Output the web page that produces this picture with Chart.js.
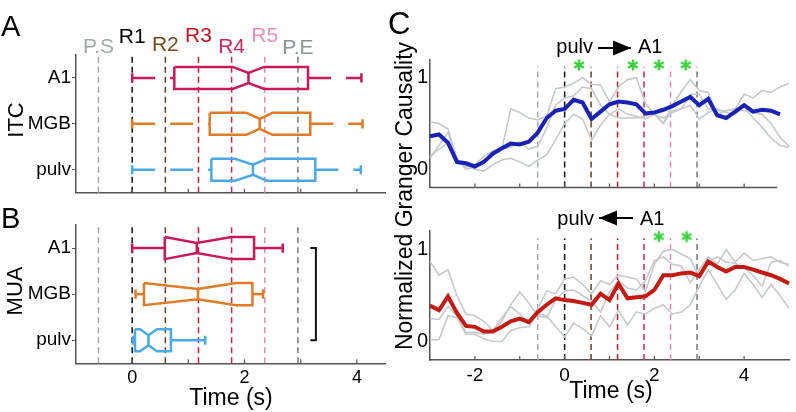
<!DOCTYPE html>
<html>
<head>
<meta charset="utf-8">
<script src="https://cdn.jsdelivr.net/npm/chart.js@4.4.1/dist/chart.umd.min.js"></script>
<style>
  html, body { margin: 0; padding: 0; background: #fff; }
  #wrap { position: relative; width: 796px; height: 412px; overflow: hidden; }
  #wrap canvas { position: absolute; left: 0; top: 0; }
</style>
</head>
<body>
<div id="wrap">
  <canvas id="chartA" width="796" height="412"></canvas>
  <canvas id="chartB" width="796" height="412"></canvas>
  <canvas id="chartC1" width="796" height="412"></canvas>
  <canvas id="chartC2" width="796" height="412"></canvas>
</div>
<script>
// ---- data ----
const regions = ['A1', 'MGB', 'pulv'];
const eventNames = ['P.S', 'R1', 'R2', 'R3', 'R4', 'R5', 'P.E'];
const eventTimes = [-0.6, 0, 0.59, 1.18, 1.77, 2.36, 2.95];

// ITC onset times (s), order: A1, MGB, pulv
const itcMin = [0, 0, 0];
const itcQ1 = [0.75, 1.38, 1.41];
const itcMed = [2.07, 2.27, 2.15];
const itcQ3 = [3.13, 3.17, 3.26];
const itcMax = [4.08, 4.10, 4.07];
const itcNotchLo = [1.79, 2.03, 1.83];
const itcNotchHi = [2.35, 2.50, 2.40];

// MUA onset times (s)
const muaMin = [0, 0.06, 0.02];
const muaQ1 = [0.58, 0.21, 0.05];
const muaMed = [1.15, 1.17, 0.29];
const muaQ3 = [2.17, 2.14, 0.69];
const muaMax = [2.68, 2.33, 1.30];
const muaNotchLo = [0.58, 0.21, 0.14];
const muaNotchHi = [1.77, 1.85, 0.44];

// normalized Granger causality
const timeC = [-3.0, -2.8, -2.6, -2.4, -2.2, -2.0, -1.8, -1.6, -1.4, -1.2, -1.0, -0.8, -0.6, -0.4, -0.2,
  0.0, 0.2, 0.4, 0.6, 0.8, 1.0, 1.2, 1.4, 1.6, 1.8, 2.0, 2.2, 2.4, 2.6, 2.8, 3.0, 3.2, 3.4, 3.6, 3.8,
  4.0, 4.2, 4.4, 4.6, 4.8, 5.0];

// pulv -> A1
const fwdMean = [0.36, 0.38, 0.29, 0.08, 0.065, 0.03, 0.08, 0.17, 0.23, 0.28, 0.27, 0.30, 0.40, 0.56, 0.64,
  0.66, 0.76, 0.73, 0.55, 0.63, 0.71, 0.74, 0.73, 0.71, 0.61, 0.62, 0.65, 0.69, 0.74, 0.79, 0.70, 0.77, 0.59, 0.56, 0.63,
  0.70, 0.63, 0.65, 0.64, 0.60, null];
const fwdGray1 = [0.52, 0.50, 0.44, 0.12, 0.02, 0.05, 0.14, 0.20, 0.22, 0.66, 0.62, 0.56, 0.54, 0.58, 0.88,
  0.90, 0.94, 1.00, 0.93, 0.92, 0.74, 0.90, 0.98, 1.00, 0.72, 0.60, 0.50, 0.70, 0.85, 0.98, 0.86, 0.84, 0.60, 0.64, 0.66,
  0.64, 0.62, 0.60, 0.50, 0.35, 0.25];
const fwdGray2 = [0.12, 0.26, 0.40, 0.10, 0.00, 0.02, 0.10, 0.17, 0.22, 0.24, 0.30, 0.22, 0.25, 0.45, 0.70,
  0.78, 0.80, 0.90, 0.88, 0.70, 0.60, 0.56, 0.56, 0.56, 0.58, 0.62, 0.50, 0.64, 0.66, 0.82, 0.82, 0.66, 0.64, 0.64, 0.66,
  0.82, 0.78, 0.86, 0.84, 0.90, 0.94];
const fwdGray3 = [0.14, 0.22, 0.28, 0.06, 0.04, 0.00, -0.02, 0.05, 0.10, 0.12, 0.08, 0.03, 0.10, 0.16, 0.32,
  0.50, 0.60, 0.55, 0.32, 0.48, 0.60, 0.66, 0.60, 0.58, 0.55, 0.60, 0.56, 0.62, 0.66, 0.70, 0.55, 0.62, 0.66, 0.62, 0.60,
  0.68, 0.56, 0.46, 0.34, 0.26, 0.24];

// A1 -> pulv
const bwdMean = [0.39, 0.34, 0.49, 0.31, 0.17, 0.16, 0.11, 0.11, 0.16, 0.22, 0.25, 0.21, 0.32, 0.40, 0.47,
  0.45, 0.44, 0.42, 0.40, 0.52, 0.45, 0.63, 0.47, 0.48, 0.49, 0.56, 0.72, 0.72, 0.74, 0.75, 0.71, 0.87, 0.81, 0.76, 0.81,
  0.81, 0.78, 0.75, 0.72, 0.68, 0.63];
const bwdGray1 = [0.87, 0.72, 0.78, 0.50, 0.30, 0.28, 0.22, 0.12, 0.26, 0.38, 0.30, 0.20, 0.36, 0.55, 0.52,
  0.68, 0.70, 0.62, 0.52, 0.66, 0.62, 0.72, 0.70, 0.68, 0.54, 0.84, 0.98, 1.00, 0.95, 0.90, 0.70, 0.86, 0.92, 0.86, 0.85,
  0.80, 0.72, 0.60, 0.86, 0.88, 0.82];
const bwdGray2 = [0.25, 0.24, 0.38, 0.28, 0.10, 0.10, 0.08, 0.12, 0.22, 0.40, 0.54, 0.42, 0.28, 0.26, 0.45,
  0.55, 0.56, 0.50, 0.44, 0.32, 0.54, 0.66, 0.58, 0.56, 0.66, 0.88, 0.92, 0.84, 0.82, 0.64, 0.78, 0.92, 0.84, 1.00, 0.86,
  0.96, 0.88, 0.90, 0.92, 0.86, 0.84];
const bwdGray3 = [0.02, 0.02, 0.28, 0.26, 0.08, 0.08, 0.03, 0.00, 0.00, 0.12, 0.15, 0.16, 0.30, 0.28, 0.16,
  0.05, 0.20, 0.14, 0.06, 0.28, 0.16, 0.34, 0.18, 0.32, 0.30, 0.36, 0.40, 0.30, 0.32, 0.40, 0.60, 0.78, 0.62, 0.46, 0.56,
  0.74, 0.62, 0.48, 0.62, 0.50, 0.36];

const fwdStars = [0.32, 1.52, 2.10, 2.70];
const bwdStars = [2.10, 2.72];
const starLevel = 1.14;

// ---- styles ----
const FONT = "'Liberation Sans', Arial, sans-serif";
const regionColors = ['#c9195a', '#e07b27', '#4aa9e6'];
const eventLineColors = ['#a3abab', '#111111', '#6e4020', '#c81e2a', '#c42a58', '#e48cb8', '#737b7b'];
const eventTextColors = ['#a0a8a8', '#000000', '#7a4a1e', '#c8141e', '#c8285a', '#e890bb', '#8a9494'];
const eventTextBase = [53, 43, 51, 42, 53, 42, 54];
const AXIS = '#555';

function seg(pts, color, width, dash, order) {
  return {
    type: 'scatter', data: pts, showLine: true, borderColor: color, borderWidth: width,
    borderDash: dash || [], pointRadius: 0, fill: false, tension: 0, clip: false,
    borderJoinStyle: 'miter', order: order || 0
  };
}

function boxSets(i, mn, q1, md, q3, mx, nlo, nhi, whiskerDash) {
  const y = 3 - i, h = 0.24, hn = 0.11, hc = 0.1, c = regionColors[i];
  return [
    seg([{x: q1, y: y + h}, {x: nlo, y: y + h}, {x: md, y: y + hn}, {x: nhi, y: y + h}, {x: q3, y: y + h},
         {x: q3, y: y - h}, {x: nhi, y: y - h}, {x: md, y: y - hn}, {x: nlo, y: y - h}, {x: q1, y: y - h},
         {x: q1, y: y + h}], c, 2.5),
    seg([{x: md, y: y + hn}, {x: md, y: y - hn}], c, 2.5),
    seg([{x: mn, y: y}, {x: q1, y: y}], c, 2.5, whiskerDash),
    seg([{x: q3, y: y}, {x: mx, y: y}], c, 2.5, whiskerDash),
    seg([{x: mn, y: y + hc}, {x: mn, y: y - hc}], c, 2.5),
    seg([{x: mx, y: y + hc}, {x: mx, y: y - hc}], c, 2.5)
  ];
}

function eventSets(y0, y1) {
  return eventTimes.map((t, k) => seg([{x: t, y: y0}, {x: t, y: y1}], eventLineColors[k], 1.5, [6, 4], 5));
}

function series(vals, color, width, order) {
  return seg(timeC.map((t, k) => ({x: t, y: vals[k]})), color, width, [], order);
}

function starImage() {
  const c = document.createElement('canvas');
  c.width = 14; c.height = 14;
  const g = c.getContext('2d');
  g.strokeStyle = '#3bd23b'; g.lineWidth = 2.4;
  for (let k = 0; k < 3; k++) {
    const a = Math.PI / 2 + k * Math.PI / 3;
    g.beginPath();
    g.moveTo(7 + 5.5 * Math.cos(a), 7 + 5.5 * Math.sin(a));
    g.lineTo(7 - 5.5 * Math.cos(a), 7 - 5.5 * Math.sin(a));
    g.stroke();
  }
  return c;
}
const STAR = starImage();

function starSet(times) {
  return {
    type: 'scatter', data: times.map(t => ({x: t, y: starLevel})),
    pointStyle: STAR, pointRadius: 6, clip: false, order: 0
  };
}

// draws inward ticks, extra text and arrows
const decor = {
  id: 'decor',
  afterDraw(chart, args, opts) {
    const ctx = chart.ctx, xs = chart.scales.x, a = chart.chartArea;
    ctx.save();
    ctx.strokeStyle = AXIS; ctx.lineWidth = 1.2;
    (opts.xTicks || []).forEach(v => {
      const px = xs.getPixelForValue(v);
      ctx.beginPath(); ctx.moveTo(px, a.bottom); ctx.lineTo(px, a.bottom - 4); ctx.stroke();
    });
    if (opts.xAxisEnd !== undefined) {
      ctx.lineWidth = 1.5;
      ctx.beginPath(); ctx.moveTo(a.left, a.bottom); ctx.lineTo(xs.getPixelForValue(opts.xAxisEnd), a.bottom); ctx.stroke();
    }
    (opts.texts || []).forEach(t => {
      ctx.save();
      ctx.font = t.font; ctx.fillStyle = t.color || '#000';
      ctx.textAlign = t.align || 'left'; ctx.textBaseline = 'alphabetic';
      const x = t.xv !== undefined ? xs.getPixelForValue(t.xv) : t.x;
      ctx.translate(x, t.y);
      if (t.rot) ctx.rotate(t.rot);
      ctx.fillText(t.text, 0, 0);
      ctx.restore();
    });
    if (opts.arrow) {
      const w = opts.arrow;
      ctx.fillStyle = '#000'; ctx.strokeStyle = '#000'; ctx.lineWidth = 2;
      ctx.beginPath(); ctx.moveTo(w.x1, w.y); ctx.lineTo(w.x2, w.y); ctx.stroke();
      const tip = w.dir > 0 ? w.x2 : w.x1, base = tip - w.dir * 18;
      ctx.beginPath(); ctx.moveTo(tip, w.y); ctx.lineTo(base, w.y - 7.5); ctx.lineTo(base, w.y + 7.5); ctx.closePath(); ctx.fill();
    }
    ctx.restore();
  }
};

// chart area fixed at (l,t)-(r,b); y axis box yW wide, x axis box xH tall
function fixedArea(l, t, r, b, yW, xH) {
  return {pad: {left: l - yW, top: t, right: 796 - r, bottom: 412 - b - xH}, yW: yW, xH: xH};
}

function boxChart(id, area, sets, xLabels, extraTexts) {
  return new Chart(document.getElementById(id), {
    type: 'scatter',
    data: {datasets: sets},
    plugins: [decor],
    options: {
      responsive: false, animation: false, devicePixelRatio: 1,
      layout: {padding: area.pad},
      plugins: {
        legend: {display: false}, tooltip: {enabled: false},
        decor: {xTicks: [0, 1, 2, 3, 4], texts: extraTexts}
      },
      scales: {
        x: {
          type: 'linear', min: -1, max: 4.5,
          afterFit: s => { s.height = area.xH; },
          afterBuildTicks: s => { s.ticks = [0, 2, 4].map(v => ({value: v})); },
          grid: {display: false, drawTicks: false},
          border: {display: true, color: AXIS, width: 1.5},
          ticks: {display: xLabels, padding: 4, color: '#000', font: {family: FONT, size: 18}, maxRotation: 0}
        },
        y: {
          type: 'linear', min: 0.5, max: 3.5,
          afterFit: s => { s.width = area.yW; },
          afterBuildTicks: s => { s.ticks = [1, 2, 3].map(v => ({value: v})); },
          grid: {display: true, drawOnChartArea: false, drawTicks: true, tickLength: 4, color: AXIS},
          border: {display: true, color: AXIS, width: 1.5},
          ticks: {padding: 1, color: '#000', font: {family: FONT, size: 19}, callback: v => regions[3 - v]}
        }
      }
    }
  });
}

function grangerChart(id, area, sets, xLabels, opts) {
  return new Chart(document.getElementById(id), {
    type: 'scatter',
    data: {datasets: sets},
    plugins: [decor],
    options: {
      responsive: false, animation: false, devicePixelRatio: 1,
      layout: {padding: area.pad},
      plugins: {legend: {display: false}, tooltip: {enabled: false}, decor: opts},
      scales: {
        x: {
          type: 'linear', min: -3, max: 5,
          afterFit: s => { s.height = area.xH; },
          afterBuildTicks: s => { s.ticks = [-2, 0, 2, 4].map(v => ({value: v})); },
          grid: {display: false, drawTicks: false},
          border: {display: opts.xAxisEnd === undefined, color: AXIS, width: 1.5},
          ticks: {display: xLabels, padding: 4, color: '#000', font: {family: FONT, size: 19}, maxRotation: 0}
        },
        y: {
          type: 'linear', min: -0.2, max: 1.2,
          afterFit: s => { s.width = area.yW; },
          afterBuildTicks: s => { s.ticks = [0, 1].map(v => ({value: v})); },
          grid: {display: false, drawTicks: false},
          border: {display: true, color: AXIS, width: 1.5},
          ticks: {padding: 2, color: '#000', font: {family: FONT, size: 20}}
        }
      }
    }
  });
}

// ---- panel A ----
const setsA = eventSets(0.5, 3.5);
regions.forEach((r, i) => {
  setsA.push(...boxSets(i, itcMin[i], itcQ1[i], itcMed[i], itcQ3[i], itcMax[i], itcNotchLo[i], itcNotchHi[i], [23, 15]));
});
const textsA = eventNames.map((n, k) => ({
  text: n, xv: eventTimes[k], y: eventTextBase[k], align: 'center', color: eventTextColors[k], font: '21px ' + FONT
}));
textsA.push({text: 'A', x: 1, y: 36, font: '29px ' + FONT});
textsA.push({text: 'ITC', x: 23, y: 120, align: 'center', rot: -Math.PI / 2, font: '22px ' + FONT});
boxChart('chartA', fixedArea(76, 55, 385, 192.7, 70, 30), setsA, false, textsA);

// ---- panel B ----
const setsB = eventSets(0.5, 3.5);
regions.forEach((r, i) => {
  setsB.push(...boxSets(i, muaMin[i], muaQ1[i], muaMed[i], muaQ3[i], muaMax[i], muaNotchLo[i], muaNotchHi[i], []));
});
setsB.push(seg([{x: 3.17, y: 3}, {x: 3.27, y: 3}, {x: 3.27, y: 1}, {x: 3.17, y: 1}], '#111', 2));
const textsB = [
  {text: 'B', x: 1, y: 228, font: '29px ' + FONT},
  {text: 'MUA', x: 22, y: 291, align: 'center', rot: -Math.PI / 2, font: '22px ' + FONT},
  {text: 'Time (s)', x: 231, y: 405, align: 'center', font: '23px ' + FONT}
];
boxChart('chartB', fixedArea(76, 225, 385, 363.3, 70, 34), setsB, true, textsB);

// ---- panel C, top: pulv -> A1 ----
const setsC1 = eventSets(-0.2, 1.12).concat([
  series(fwdGray1, '#c5cacd', 1.6, 3),
  series(fwdGray2, '#c5cacd', 1.6, 3),
  series(fwdGray3, '#c5cacd', 1.6, 3),
  series(fwdMean, '#1a22b5', 4, 1),
  starSet(fwdStars)
]);
grangerChart('chartC1', fixedArea(430, 59.5, 790, 187.5, 20, 30), setsC1, false, {
  xTicks: [-2, -1, 0, 1, 2, 3, 4], xAxisEnd: 4.74,
  texts: [
    {text: 'C', x: 388, y: 34, font: '31px ' + FONT},
    {text: 'Normalized Granger Causality', x: 412, y: 196, align: 'center', rot: -Math.PI / 2, font: '23px ' + FONT},
    {text: 'pulv', x: 593, y: 53, align: 'right', font: '20px ' + FONT},
    {text: 'A1', x: 638, y: 53, font: '20px ' + FONT}
  ],
  arrow: {x1: 598, x2: 631, y: 48, dir: 1}
});

// ---- panel C, bottom: A1 -> pulv ----
const setsC2 = eventSets(-0.2, 1.12).concat([
  series(bwdGray1, '#c5cacd', 1.6, 3),
  series(bwdGray2, '#c5cacd', 1.6, 3),
  series(bwdGray3, '#c5cacd', 1.6, 3),
  series(bwdMean, '#c41a12', 4, 1),
  starSet(bwdStars)
]);
grangerChart('chartC2', fixedArea(430, 231, 790, 360, 20, 30), setsC2, true, {
  xTicks: [-2, -1, 0, 1, 2, 3, 4],
  texts: [
    {text: 'pulv', x: 594, y: 225, align: 'right', font: '20px ' + FONT},
    {text: 'A1', x: 640, y: 225, font: '20px ' + FONT},
    {text: 'Time (s)', x: 611, y: 398, align: 'center', font: '23px ' + FONT}
  ],
  arrow: {x1: 599, x2: 633, y: 218, dir: -1}
});
</script>
</body>
</html>
